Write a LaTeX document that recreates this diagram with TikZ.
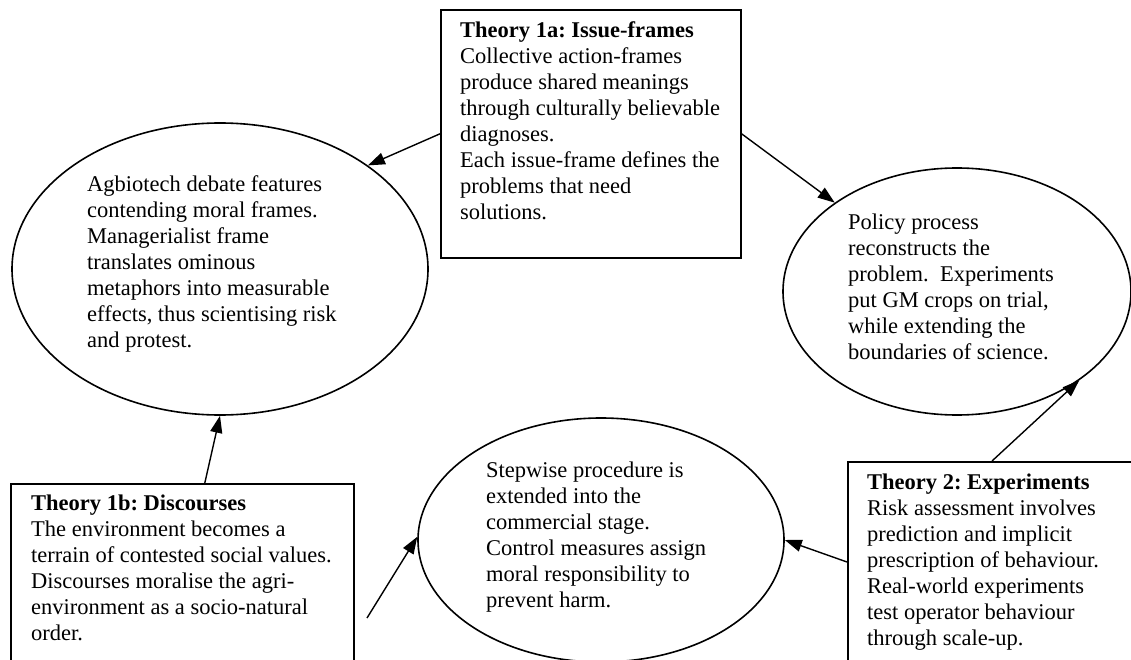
\documentclass[tikz,border=0pt]{standalone}
\usepackage{fontspec}
\setmainfont{Liberation Serif}
\usetikzlibrary{arrows.meta, shapes.geometric}
\frenchspacing

\tikzset{
  oval/.style={draw, ellipse, line width=1.6pt, inner sep=0pt},
  theory/.style={draw, rectangle, line width=1.6pt, anchor=north west, inner sep=0pt},
  txt/.style={anchor=north west, inner sep=0pt, align=left, execute at begin node=\strut},
  arr/.style={line width=1.4pt, -{Triangle[length=17pt, width=12pt]}}
}

\begin{document}
\begin{tikzpicture}[x=1pt, y=-1pt, font=\fontsize{22.5}{26}\selectfont]
  \useasboundingbox (0,0) rectangle (1131,660);
  \clip (0,0) rectangle (1131,660);
  % ellipses
  \node[oval, minimum width=416pt, minimum height=292pt] (agb) at (220,269) {};
  \node[oval, minimum width=348pt, minimum height=247pt] (pol) at (957,291.5) {};
  \node[oval, minimum width=366pt, minimum height=244pt] (stepwise) at (601,540) {};
  % theory boxes
  \node[theory, minimum width=300pt, minimum height=248pt] (t1a) at (440,9) {};
  \node[theory, minimum width=343pt, minimum height=250pt] (t1b) at (10,483) {};
  \node[theory, minimum width=300pt, minimum height=250pt] (t2) at (847,461) {};
  % texts
  \node[txt] (t1atxt) at (460,21.8) {\textbf{Theory 1a: Issue-frames}\\ Collective action-frames\\ produce shared meanings\\ through culturally believable\\ diagnoses.\\ Each issue-frame defines the\\ problems that need\\ solutions.};
  \node[txt] (agbtxt) at (87,175.8) {Agbiotech debate features\\ contending moral frames.\\ Managerialist frame\\ translates ominous\\ metaphors into measurable\\ effects, thus scientising risk\\ and protest.};
  \node[txt] (poltxt) at (848,213.8) {Policy process\\ reconstructs the\\ problem.\ \ Experiments\\ put GM crops on trial,\\ while extending the\\ boundaries of science.};
  \node[txt] (steptxt) at (486,461.8) {Stepwise procedure is\\ extended into the\\ commercial stage.\\ Control measures assign\\ moral responsibility to\\ prevent harm.};
  \node[txt] (t1btxt) at (31,494.8) {\textbf{Theory 1b: Discourses}\\ The environment becomes a\\ terrain of contested social values.\\ Discourses moralise the agri-\\ environment as a socio-natural\\ order.};
  \node[txt] (t2txt) at (867,473.8) {\textbf{Theory 2: Experiments}\\ Risk assessment involves\\ prediction and implicit\\ prescription of behaviour.\\ Real-world experiments\\ test operator behaviour\\ through scale-up.};
  % connectors
  \coordinate (loose) at (367,618);
  \draw[arr] (t1a.west) -- (agb.35);
  \draw[arr] (t1a.east) -- (pol.144);
  \draw[arr] ([xshift=22.5pt]t1b.north) -- (agb.south);
  \draw[arr] (loose) -- (stepwise.179);
  \draw[arr] ([yshift=-101pt]t2.north west) -- (stepwise.0);
  \draw[arr] ([xshift=145pt]t2.north west) -- (pol.-36);
\end{tikzpicture}
\end{document}
